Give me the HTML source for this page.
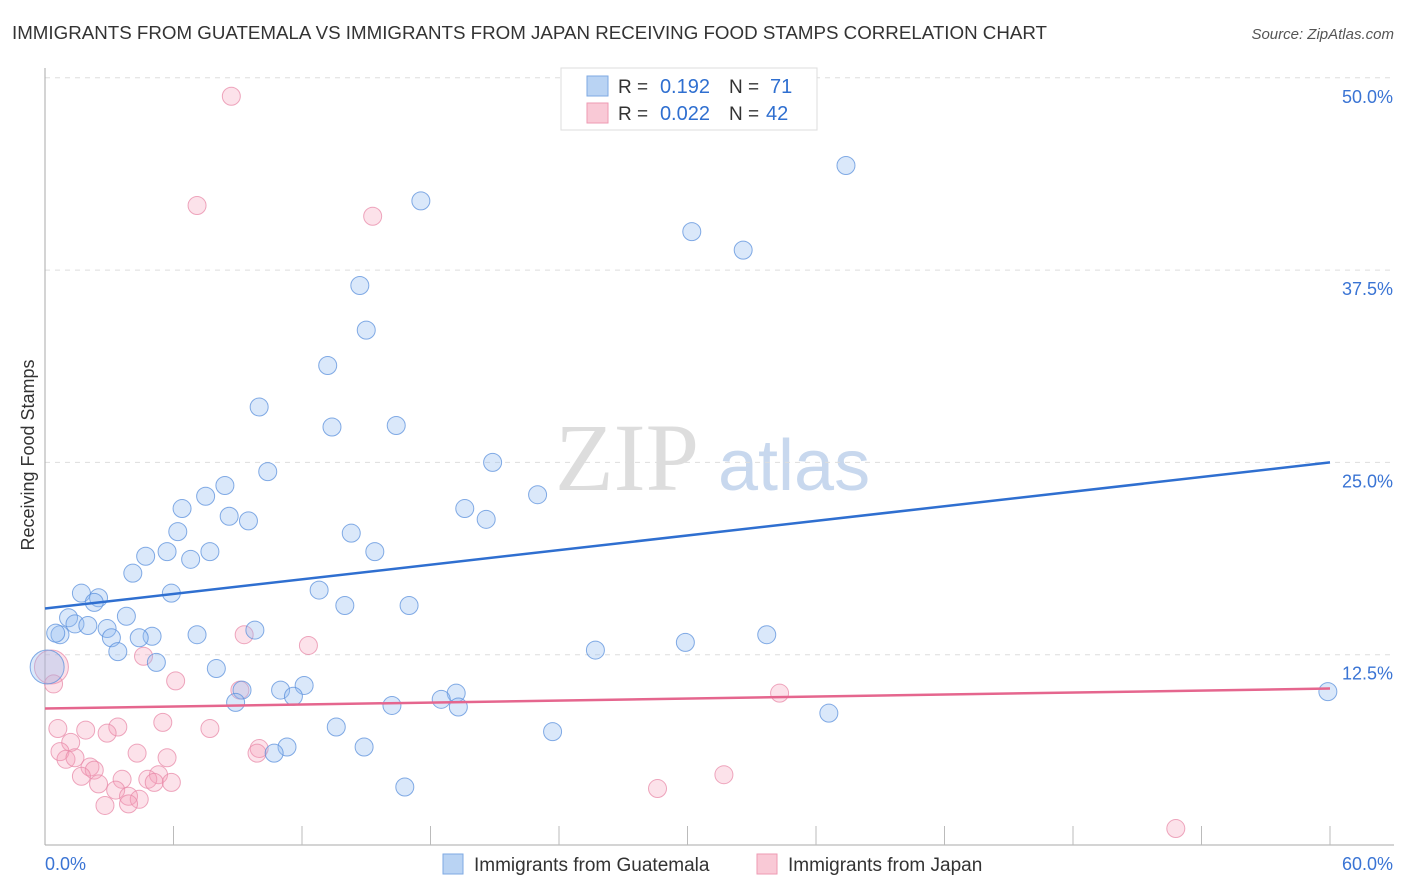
<!DOCTYPE html>
<html><head><meta charset="utf-8"><style>
body{margin:0;background:#fff;font-family:"Liberation Sans",sans-serif;}
#wrap{position:relative;width:1406px;height:892px;overflow:hidden}
</style></head><body>
<div id="wrap">
<svg id="svg" width="1406" height="892" xmlns="http://www.w3.org/2000/svg">
<text x="12" y="39" font-size="18" fill="#333" textLength="1035" lengthAdjust="spacingAndGlyphs">IMMIGRANTS FROM GUATEMALA VS IMMIGRANTS FROM JAPAN RECEIVING FOOD STAMPS CORRELATION CHART</text>
<text x="1394" y="39" font-size="15" fill="#555" font-style="italic" text-anchor="end">Source: ZipAtlas.com</text>
<text x="34" y="455" font-size="18" fill="#333" text-anchor="middle" transform="rotate(-90 34 455)">Receiving Food Stamps</text>
<text x="555" y="490" font-size="96" fill="#ddd" font-family="Liberation Serif,serif">ZIP</text>
<text x="718" y="490" font-size="72" fill="#c8d8ee">atlas</text>
<g id="grid"></g><g id="marks"></g>
<g>
<rect x="561" y="68" width="256" height="62" fill="#fff" stroke="#ddd"/>
<rect x="587" y="76" width="21" height="20" fill="#b9d3f3" stroke="#7eaae3"/>
<rect x="587" y="103" width="21" height="20" fill="#f9c9d6" stroke="#ee9ab3"/>
<text x="618" y="93" font-size="19" fill="#333">R =</text>
<text x="710" y="93" font-size="20" fill="#2f6fd0" text-anchor="end">0.192</text>
<text x="729" y="93" font-size="19" fill="#333">N =</text>
<text x="770" y="93" font-size="20" fill="#2f6fd0">71</text>
<text x="618" y="120" font-size="19" fill="#333">R =</text>
<text x="710" y="120" font-size="20" fill="#2f6fd0" text-anchor="end">0.022</text>
<text x="729" y="120" font-size="19" fill="#333">N =</text>
<text x="766" y="120" font-size="20" fill="#2f6fd0">42</text>
</g>
<g>
<rect x="443" y="854" width="20" height="20" fill="#b9d3f3" stroke="#7eaae3"/>
<text x="474" y="871" font-size="19" fill="#333">Immigrants from Guatemala</text>
<rect x="757" y="854" width="20" height="20" fill="#f9c9d6" stroke="#ee9ab3"/>
<text x="788" y="871" font-size="19" fill="#333">Immigrants from Japan</text>
</g>
</svg></div>
<script>
const xTicks=[0,60];
const yTicks=[12.5,25,37.5,50];
const blueX=[37.4,17.55,30.2,32.6,14.7,15.0,13.2,10.0,13.4,16.4,20.9,10.4,8.4,7.5,23.0,19.6,6.4,8.6,9.5,20.6,6.2,14.3,5.7,7.7,15.4,4.7,6.8,4.1,5.9,1.7,12.8,2.5,2.3,14.0,17.0,3.8,1.1,1.4,2.0,2.9,9.8,0.7,0.5,7.1,5.0,3.1,4.4,33.7,29.9,25.7,3.4,5.2,8.0,0.1,9.2,11.0,12.1,19.2,8.9,11.6,18.5,16.2,19.3,59.9,36.6,13.6,23.7,11.3,10.7,14.9,16.8];
const blueY=[44.3,42.0,40.0,38.8,36.5,33.6,31.3,28.6,27.3,27.4,25.0,24.4,23.5,22.8,22.9,22.0,22.0,21.5,21.2,21.3,20.5,20.4,19.2,19.2,19.2,18.9,18.7,17.8,16.5,16.5,16.7,16.2,15.9,15.7,15.7,15.0,14.9,14.5,14.4,14.2,14.1,13.8,13.9,13.8,13.7,13.6,13.6,13.8,13.3,12.8,12.7,12.0,11.6,11.7,10.2,10.2,10.5,10.0,9.4,9.8,9.6,9.2,9.1,10.1,8.7,7.8,7.5,6.5,6.1,6.5,3.9];
const pinkX=[8.7,7.1,15.3,9.3,12.3,4.6,0.3,0.4,6.1,9.1,34.3,0.6,1.9,3.4,5.5,7.7,2.9,1.2,0.7,10.0,9.9,4.3,5.7,0.98,1.4,2.1,2.3,1.7,5.3,3.6,4.8,2.5,3.3,5.1,5.9,3.9,4.4,2.8,3.9,31.7,28.6,52.8];
const pinkY=[48.8,41.7,41.0,13.8,13.1,12.4,11.7,10.6,10.8,10.2,10.0,7.7,7.6,7.8,8.1,7.7,7.4,6.8,6.2,6.4,6.1,6.1,5.8,5.7,5.8,5.2,5.0,4.6,4.7,4.4,4.4,4.1,3.7,4.2,4.2,3.3,3.1,2.7,2.8,4.7,3.8,1.2];
const blueTrend=[15.5,25.0];
const pinkTrend=[9.0,10.3];
const X=v=>45+v*1285/60, Y=v=>847-v*192.3/12.5;
const NS='http://www.w3.org/2000/svg';
const g=document.getElementById('grid'), m=document.getElementById('marks');
function el(t,a,p){const e=document.createElementNS(NS,t);for(const k in a)e.setAttribute(k,a[k]);p.appendChild(e);return e;}
yTicks.forEach(t=>{
 const l=el('line',{x1:45,x2:1394,y1:Y(t),y2:Y(t),stroke:'#ddd','stroke-dasharray':'5,5'},g);
 
 
 const tx=el('text',{x:1393,y:Y(t)+25,'font-size':18,fill:'#3a74d4','text-anchor':'end'},g);tx.textContent=t.toFixed(1)+'%';
 
 
});
el('line',{x1:45,x2:45,y1:68,y2:845,stroke:'#aaa'},g);
el('line',{x1:45,x2:1394,y1:845,y2:845,stroke:'#aaa'},g);
for(let i=1;i<=10;i++){const tk=el('line',{x1:X(i*6),x2:X(i*6),y1:826,y2:845,stroke:'#bbb'},g);
 
 }
xTicks.forEach((t,i)=>{const tx=el('text',{x:i?1393:45,y:870,'font-size':18,fill:'#3a74d4','text-anchor':i?'end':'start'},g);tx.textContent=t.toFixed(1)+'%';
 
 });
function pts(xs,ys,fill,stroke,name){xs.forEach((x,i)=>{const big=(x<0.35&&ys[i]>11&&ys[i]<12.5);
 const c=el('circle',{cx:X(x),cy:Y(ys[i]),r:big?17:9,fill,stroke,'stroke-width':1,'stroke-opacity':0.75},m);
 
 });}
pts(pinkX,pinkY,'rgba(244,160,185,0.3)','#e88aa8','japan-point');
pts(blueX,blueY,'rgba(150,190,240,0.35)','#5b90dc','guatemala-point');
const bl=el('line',{x1:X(0),y1:Y(blueTrend[0]),x2:X(60),y2:Y(blueTrend[1]),stroke:'#2f6fd0','stroke-width':2.5},m);


const pl=el('line',{x1:X(0),y1:Y(pinkTrend[0]),x2:X(60),y2:Y(pinkTrend[1]),stroke:'#e5668e','stroke-width':2.5},m);


</script></body></html>
